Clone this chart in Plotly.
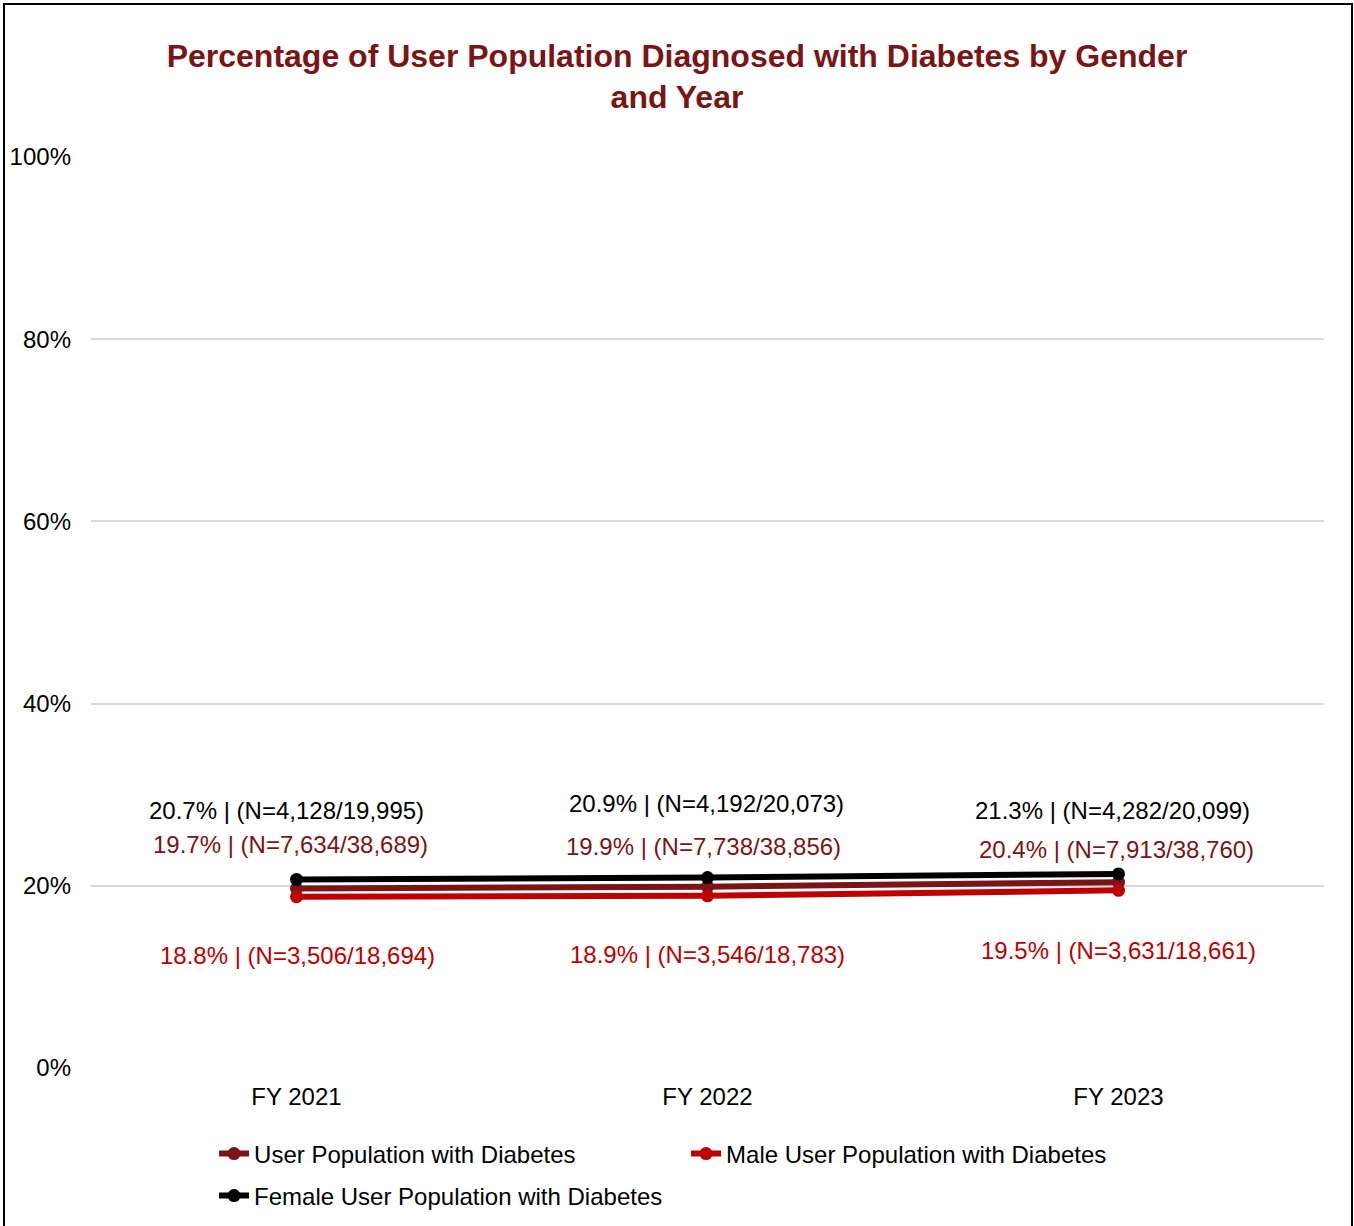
import plotly.graph_objects as go

# data
years = ["FY 2021", "FY 2022", "FY 2023"]

total_pct = [19.7, 19.9, 20.4]
total_n = ["7,634/38,689", "7,738/38,856", "7,913/38,760"]

male_pct = [18.8, 18.9, 19.5]
male_n = ["3,506/18,694", "3,546/18,783", "3,631/18,661"]

female_pct = [20.7, 20.9, 21.3]
female_n = ["4,128/19,995", "4,192/20,073", "4,282/20,099"]

# label placement in pixels (y: above the point, negative = below)
total_shift = [(-6, 44), (-4, 40), (-2, 33)]
male_shift = [(1, -59), (0, -59), (0, -60)]
female_shift = [(-10, 69), (-1, 74), (-6, 63)]

MAROON = "#7B1416"
RED = "#C00000"
BLACK = "#000000"
FONT = "Liberation Sans, Arial, sans-serif"

series = [
    ("User Population with Diabetes", total_pct, total_n, total_shift, MAROON, "legend"),
    ("Male User Population with Diabetes", male_pct, male_n, male_shift, RED, "legend"),
    ("Female User Population with Diabetes", female_pct, female_n, female_shift, BLACK, "legend2"),
]

fig = go.Figure()
annotations = []
for name, pct, n, shift, color, leg in series:
    fig.add_trace(go.Scatter(
        x=years, y=[p / 100 for p in pct], name=name, mode="lines+markers",
        line=dict(color=color, width=6), marker=dict(color=color, size=13),
        legend=leg,
    ))
    for x, p, nn, (dx, dy) in zip(years, pct, n, shift):
        annotations.append(dict(
            x=x, y=p / 100, xref="x", yref="y", text=f"{p:.1f}% | (N={nn})",
            showarrow=False, xshift=dx, yshift=dy,
            font=dict(size=24, color=color, family=FONT),
        ))

# outer frame
frame = [dict(
    type="rect", xref="paper", yref="paper",
    x0=(4 - 91) / 1233, x1=(1352 - 91) / 1233,
    y0=(1068 - 1240) / 911, y1=(1068 - 4) / 911,
    line=dict(color="#000000", width=2), fillcolor="rgba(0,0,0,0)",
)]

legend_style = dict(
    orientation="h", xanchor="left", yanchor="middle",
    font=dict(size=24, color="#000000", family=FONT), entrywidth=427,
    traceorder="normal", bgcolor="rgba(0,0,0,0)",
)

fig.update_layout(
    width=1354, height=1226,
    margin=dict(l=91, r=30, t=157, b=158, autoexpand=False),
    paper_bgcolor="white", plot_bgcolor="white",
    font=dict(family=FONT, size=24, color="#000000"),
    title=dict(
        text="Percentage of User Population Diagnosed with Diabetes by Gender<br>and Year",
        x=0.5, xanchor="center", y=0.9456, yanchor="top",
        font=dict(size=32, color=MAROON, family=FONT, weight="bold"),
    ),
    annotations=annotations,
    shapes=frame,
    showlegend=True,
    legend=dict(legend_style, x=0.0998, y=(1068 - 1154) / 911),
    legend2=dict(legend_style, x=0.0998, y=(1068 - 1196) / 911),
)
fig.update_yaxes(
    range=[0, 1], tickformat=".0%", dtick=0.2, tick0=0,
    showgrid=True, gridcolor="#D9D9D9", gridwidth=1.5, zeroline=False,
    showline=False, ticks="", ticklabelstandoff=19, automargin=False,
)
fig.update_xaxes(
    range=[-0.5, 2.5], showgrid=False, showline=False, ticks="",
    ticklabelstandoff=12, automargin=False,
)

fig.write_html(
    "out.html",
    config={"displayModeBar": False},
    post_script="document.body.style.margin='0';document.body.style.overflow='hidden';",
)
